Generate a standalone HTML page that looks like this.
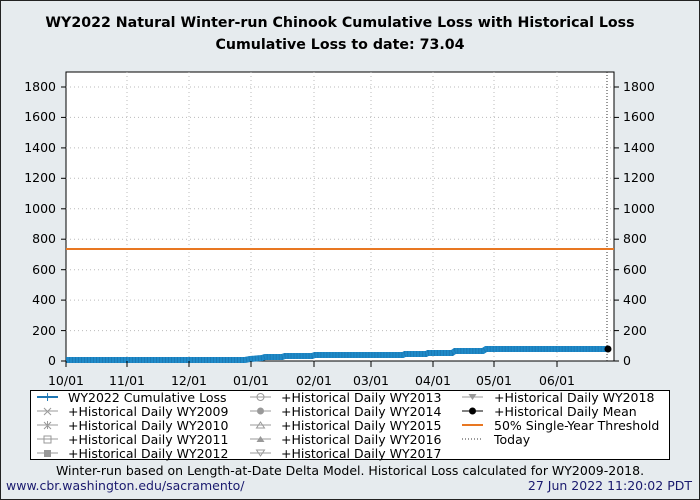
<!DOCTYPE html><html><head><style>body{margin:0;background:#e6ebee}svg{display:block;font-family:"DejaVu Sans","Liberation Sans",sans-serif}</style></head><body>
<svg width="700" height="500" viewBox="0 0 700 500">
<rect x="0.5" y="0.5" width="699" height="499" fill="#e6ebee" stroke="#222"/>
<text x="340" y="27" font-size="14.2" font-weight="bold" text-anchor="middle">WY2022 Natural Winter-run Chinook Cumulative Loss with Historical Loss</text>
<text x="340" y="49" font-size="14.2" font-weight="bold" text-anchor="middle">Cumulative Loss to date: 73.04</text>
<rect x="66" y="72" width="548" height="289" fill="#fff" stroke="#000"/>
<g stroke="#bbb" stroke-dasharray="1,3">
<line x1="127" y1="72" x2="127" y2="361"/><line x1="189" y1="72" x2="189" y2="361"/><line x1="251" y1="72" x2="251" y2="361"/><line x1="314" y1="72" x2="314" y2="361"/><line x1="371" y1="72" x2="371" y2="361"/><line x1="433" y1="72" x2="433" y2="361"/><line x1="494" y1="72" x2="494" y2="361"/><line x1="557" y1="72" x2="557" y2="361"/>
<line x1="66" y1="330.6" x2="614" y2="330.6"/><line x1="66" y1="300.1" x2="614" y2="300.1"/><line x1="66" y1="269.7" x2="614" y2="269.7"/><line x1="66" y1="239.2" x2="614" y2="239.2"/><line x1="66" y1="208.8" x2="614" y2="208.8"/><line x1="66" y1="178.3" x2="614" y2="178.3"/><line x1="66" y1="147.9" x2="614" y2="147.9"/><line x1="66" y1="117.4" x2="614" y2="117.4"/><line x1="66" y1="87" x2="614" y2="87"/>
</g>
<line x1="607" y1="72" x2="607" y2="361" stroke="#333" stroke-dasharray="1,2"/>
<line x1="66" y1="249" x2="614" y2="249" stroke="#e87722" stroke-width="2"/>
<polyline fill="none" stroke="#1f8ac8" stroke-width="6" points="66,360 245,360 250,359 262,358 265,357 282,357 285,356 312,356 315,355 403,355 405,354 426,354 428,353 452,353 455,351 483,351 486,349 608,349"/>
<polyline fill="none" stroke="#1565a0" stroke-width="6" stroke-dasharray="1,2" opacity=".45" points="66,360 245,360 250,359 262,358 265,357 282,357 285,356 312,356 315,355 403,355 405,354 426,354 428,353 452,353 455,351 483,351 486,349 608,349"/>
<circle cx="608" cy="349" r="3.5" fill="#000"/>
<g font-size="12.5" text-anchor="end">
<text x="56" y="365">0</text><text x="56" y="335">200</text><text x="56" y="304">400</text><text x="56" y="274">600</text><text x="56" y="243">800</text><text x="56" y="213">1000</text><text x="56" y="182">1200</text><text x="56" y="152">1400</text><text x="56" y="121">1600</text><text x="56" y="91">1800</text>
</g>
<g font-size="12.5">
<text x="623" y="365">0</text><text x="623" y="335">200</text><text x="623" y="304">400</text><text x="623" y="274">600</text><text x="623" y="243">800</text><text x="623" y="213">1000</text><text x="623" y="182">1200</text><text x="623" y="152">1400</text><text x="623" y="121">1600</text><text x="623" y="91">1800</text>
</g>
<g stroke="#000">
<line x1="61" y1="361" x2="66" y2="361"/><line x1="61" y1="330.6" x2="66" y2="330.6"/><line x1="61" y1="300.1" x2="66" y2="300.1"/><line x1="61" y1="269.7" x2="66" y2="269.7"/><line x1="61" y1="239.2" x2="66" y2="239.2"/><line x1="61" y1="208.8" x2="66" y2="208.8"/><line x1="61" y1="178.3" x2="66" y2="178.3"/><line x1="61" y1="147.9" x2="66" y2="147.9"/><line x1="61" y1="117.4" x2="66" y2="117.4"/><line x1="61" y1="87" x2="66" y2="87"/>
<line x1="614" y1="361" x2="619" y2="361"/><line x1="614" y1="330.6" x2="619" y2="330.6"/><line x1="614" y1="300.1" x2="619" y2="300.1"/><line x1="614" y1="269.7" x2="619" y2="269.7"/><line x1="614" y1="239.2" x2="619" y2="239.2"/><line x1="614" y1="208.8" x2="619" y2="208.8"/><line x1="614" y1="178.3" x2="619" y2="178.3"/><line x1="614" y1="147.9" x2="619" y2="147.9"/><line x1="614" y1="117.4" x2="619" y2="117.4"/><line x1="614" y1="87" x2="619" y2="87"/>
<line x1="66" y1="361" x2="66" y2="367"/><line x1="127" y1="361" x2="127" y2="367"/><line x1="189" y1="361" x2="189" y2="367"/><line x1="251" y1="361" x2="251" y2="367"/><line x1="314" y1="361" x2="314" y2="367"/><line x1="371" y1="361" x2="371" y2="367"/><line x1="433" y1="361" x2="433" y2="367"/><line x1="494" y1="361" x2="494" y2="367"/><line x1="557" y1="361" x2="557" y2="367"/>
</g>
<g font-size="12.5" text-anchor="middle">
<text x="66" y="385">10/01</text><text x="127" y="385">11/01</text><text x="189" y="385">12/01</text><text x="251" y="385">01/01</text><text x="314" y="385">02/01</text><text x="371" y="385">03/01</text><text x="433" y="385">04/01</text><text x="494" y="385">05/01</text><text x="557" y="385">06/01</text>
</g>
<rect x="30.5" y="390.5" width="639" height="69" fill="#fff" stroke="#000"/>
<g font-size="12.5">
<text x="68" y="402">WY2022 Cumulative Loss</text><text x="68" y="416">+Historical Daily WY2009</text><text x="68" y="430">+Historical Daily WY2010</text><text x="68" y="444">+Historical Daily WY2011</text><text x="68" y="458">+Historical Daily WY2012</text>
<text x="281" y="402">+Historical Daily WY2013</text><text x="281" y="416">+Historical Daily WY2014</text><text x="281" y="430">+Historical Daily WY2015</text><text x="281" y="444">+Historical Daily WY2016</text><text x="281" y="458">+Historical Daily WY2017</text>
<text x="494" y="402">+Historical Daily WY2018</text><text x="494" y="416">+Historical Daily Mean</text><text x="494" y="430">50% Single-Year Threshold</text><text x="494" y="444">Today</text>
</g>
<g stroke="#999">
<line x1="37" y1="411" x2="58" y2="411"/><line x1="37" y1="425" x2="58" y2="425"/><line x1="37" y1="439" x2="58" y2="439"/><line x1="37" y1="453" x2="58" y2="453"/>
<line x1="250" y1="397" x2="271" y2="397"/><line x1="250" y1="411" x2="271" y2="411"/><line x1="250" y1="425" x2="271" y2="425"/><line x1="250" y1="439" x2="271" y2="439"/><line x1="250" y1="453" x2="271" y2="453"/>
<line x1="462" y1="397" x2="483" y2="397"/>
</g>
<line x1="37" y1="397" x2="58" y2="397" stroke="#1f77b4" stroke-width="2"/><text x="47.5" y="401" font-size="12" fill="#1f77b4" text-anchor="middle">+</text>
<line x1="462" y1="411" x2="483" y2="411" stroke="#000"/><circle cx="472.5" cy="411" r="3.5"/>
<line x1="462" y1="425" x2="483" y2="425" stroke="#e87722" stroke-width="2"/>
<line x1="462" y1="439" x2="483" y2="439" stroke="#333" stroke-dasharray="1,2"/>
<g fill="#999"><circle cx="260.5" cy="411" r="3.5"/><rect x="44" y="450" width="7" height="7"/><path d="M260.5 436 l4 6 h-8z"/><path d="M472.5 400 l4 -6 h-8z"/></g>
<g fill="none" stroke="#999"><circle cx="260.5" cy="397" r="3.5"/><rect x="44" y="436" width="7" height="7"/><path d="M260.5 422 l4 6 h-8z"/><path d="M260.5 456 l4 -6 h-8z"/><path d="M44 408 l7 7 M51 408 l-7 7"/><path d="M44 422 l7 7 M51 422 l-7 7 M47.5 421 v8"/></g>
<text x="350" y="475" font-size="12.5" text-anchor="middle">Winter-run based on Length-at-Date Delta Model. Historical Loss calculated for WY2009-2018.</text>
<text x="6" y="490" font-size="12.5" fill="#1a1a6e">www.cbr.washington.edu/sacramento/</text>
<text x="692" y="490" font-size="12.5" fill="#1a1a6e" text-anchor="end">27 Jun 2022 11:20:02 PDT</text>
</svg></body></html>
